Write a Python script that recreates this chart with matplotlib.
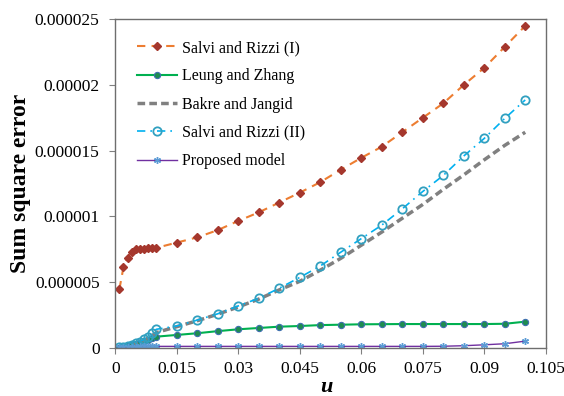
import matplotlib
matplotlib.use("Agg")
import matplotlib.pyplot as plt
from matplotlib.ticker import FixedLocator, FixedFormatter

plt.rcParams['font.family'] = ['Liberation Serif', 'DejaVu Serif']

# damping ratio values (u)
u = [0.001, 0.002, 0.003, 0.004, 0.005, 0.006, 0.007, 0.008, 0.009, 0.010,
     0.015, 0.020, 0.025, 0.030, 0.035, 0.040, 0.045, 0.050, 0.055, 0.060,
     0.065, 0.070, 0.075, 0.080, 0.085, 0.090, 0.095, 0.100]

# sum square error, in units of 1e-6
salvi_rizzi_1 = [4.45, 6.13, 6.86, 7.32, 7.48, 7.52, 7.55, 7.56, 7.58, 7.60,
                 8.00, 8.40, 8.95, 9.65, 10.30, 11.05, 11.80, 12.60, 13.55, 14.45,
                 15.30, 16.40, 17.50, 18.60, 20.00, 21.30, 22.90, 24.50]
leung_zhang = [0.01, 0.05, 0.10, 0.18, 0.27, 0.37, 0.48, 0.60, 0.72, 0.84,
               0.97, 1.10, 1.26, 1.40, 1.50, 1.60, 1.65, 1.72, 1.75, 1.78,
               1.79, 1.80, 1.80, 1.80, 1.80, 1.80, 1.82, 1.98]
bakre_jangid = [0.02, 0.05, 0.10, 0.18, 0.28, 0.40, 0.55, 0.72, 0.92, 1.15,
                1.60, 2.05, 2.55, 3.10, 3.70, 4.40, 5.05, 5.90, 6.80, 7.80,
                8.80, 9.85, 10.90, 12.05, 13.15, 14.30, 15.40, 16.40]
salvi_rizzi_2 = [0.02, 0.06, 0.12, 0.20, 0.33, 0.46, 0.64, 0.84, 1.10, 1.40,
                 1.65, 2.10, 2.58, 3.18, 3.76, 4.53, 5.35, 6.22, 7.27, 8.30,
                 9.33, 10.57, 11.89, 13.11, 14.59, 15.93, 17.45, 18.86]
proposed = [0.05, 0.06, 0.07, 0.08, 0.09, 0.10, 0.10, 0.10, 0.10, 0.10,
            0.10, 0.10, 0.10, 0.10, 0.10, 0.10, 0.10, 0.10, 0.10, 0.10,
            0.10, 0.10, 0.10, 0.11, 0.15, 0.22, 0.30, 0.50]

x_ticks = [0, 0.015, 0.03, 0.045, 0.06, 0.075, 0.09, 0.105]
x_tick_labels = ['0', '0.015', '0.03', '0.045', '0.06', '0.075', '0.09', '0.105']
y_ticks = [0, 5e-6, 10e-6, 15e-6, 20e-6, 25e-6]
y_tick_labels = ['0', '0.000005', '0.00001', '0.000015', '0.00002', '0.000025']

scale = 1e-6
def sc(v):
    return [a * scale for a in v]

fig = plt.figure(figsize=(5.64, 3.96), dpi=100)
ax = fig.add_axes([0.2044, 0.1220, 0.7632, 0.8293])

ax.plot(u, sc(salvi_rizzi_1), color='#ED7D31', lw=1.5, ls=(0, (4, 3)),
        marker='D', ms=4.5, mfc='#A5372D', mec='#A5372D',
        label='Salvi and Rizzi (I)')
ax.plot(u, sc(leung_zhang), color='#00B050', lw=1.5, ls='-',
        marker='o', ms=4.5, mfc='#1E8C50', mec='#3F6FB0', mew=0.8,
        label='Leung and Zhang')
ax.plot(u, sc(bakre_jangid), color='#808080', lw=2.5, ls=(0, (2.2, 1.2)),
        label='Bakre and Jangid')
ax.plot(u, sc(salvi_rizzi_2), color='#00B0F0', lw=1.2, ls=(0, (5, 3, 1, 3)),
        marker='o', ms=6, mfc='none', mec='#31A0C0', mew=1.3,
        label='Salvi and Rizzi (II)')
ax.plot(u, sc(proposed), color='#7030A0', lw=1.0, ls='-',
        marker=(6, 2, 0), ms=5, mec='#5B9BD5', mew=1.0,
        label='Proposed model')

ax.set_xlim(0, 0.105)
ax.set_ylim(0, 25e-6)
ax.xaxis.set_major_locator(FixedLocator(x_ticks))
ax.xaxis.set_major_formatter(FixedFormatter(x_tick_labels))
ax.yaxis.set_major_locator(FixedLocator(y_ticks))
ax.yaxis.set_major_formatter(FixedFormatter(y_tick_labels))
ax.tick_params(direction='out', length=4.3, width=0.8, colors='#808080',
               labelcolor='black', labelsize=12.5)
ax.tick_params(axis='y', pad=7)
ax.tick_params(axis='x', pad=5.5)
for s in ax.spines.values():
    s.set_color('#6E6E6E')
    s.set_linewidth(1.0)

ax.set_xlabel('u', fontsize=16, fontweight='bold', style='italic')
ax.set_ylabel('Sum square error', fontsize=17, fontweight='bold')
ax.xaxis.set_label_coords(0.49, -0.088)
ax.yaxis.set_label_coords(-0.195, 0.5)

ax.legend(loc='upper left', bbox_to_anchor=(0.0504, 0.937), frameon=False,
          fontsize=11.5, handlelength=2.5, handletextpad=0.3,
          labelspacing=0.77, borderaxespad=0, borderpad=0)

fig.savefig('out.png', dpi=100)
